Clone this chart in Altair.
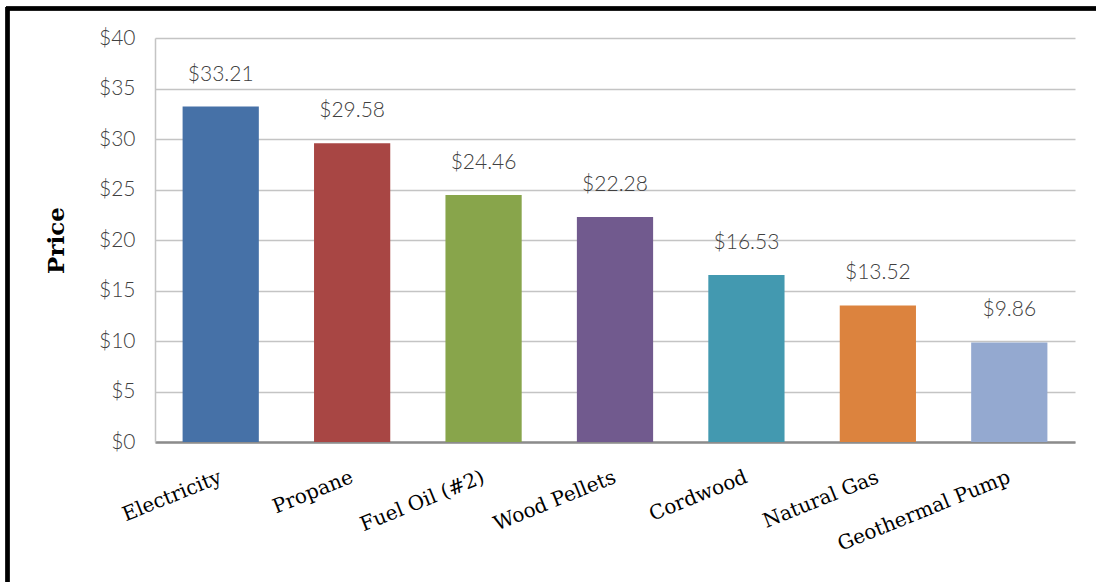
import altair as alt
import pandas as pd

fuels = ["Electricity", "Propane", "Fuel Oil (#2)", "Wood Pellets", "Cordwood", "Natural Gas", "Geothermal Pump"]
prices = [33.21, 29.58, 24.46, 22.28, 16.53, 13.52, 9.86]
colors = ["#4671A7", "#A84644", "#88A54B", "#715A8E", "#4399B0", "#DC833E", "#94A9D0"]
y_ticks = [0, 5, 10, 15, 20, 25, 30, 35, 40]

df = pd.DataFrame({"fuel": fuels, "price": prices, "color": colors,
                   "label": ["$" + f"{p:.2f}" for p in prices]})

W, H = 920, 404

x = alt.X("fuel:N", sort=fuels, title=None,
          scale=alt.Scale(paddingInner=0.42, paddingOuter=0.21),
          axis=alt.Axis(labelAngle=-22, labelAlign="right", labelBaseline="middle",
                        labelPadding=34, labelFont="DejaVu Serif", labelFontSize=20,
                        labelColor="#000000", ticks=False, domainColor="#8c8c8c",
                        domainWidth=2.5, labelOverlap=False, labelLimit=400))
y = alt.Y("price:Q", title="Price",
          scale=alt.Scale(domain=[0, 40], nice=False),
          axis=alt.Axis(values=y_ticks, labelExpr="'$' + datum.value", ticks=False,
                        labelFont="Lato", labelFontSize=21, labelFontWeight=300,
                        labelColor="#404040",
                        labelPadding=20, gridColor="#c4c4c4", gridWidth=1.5,
                        domainColor="#c4c4c4", domainWidth=1.5,
                        titleFont="DejaVu Serif", titleFontSize=23, titleFontWeight="bold",
                        titleColor="#000000", titlePadding=30))

bars = alt.Chart(df).mark_bar().encode(
    x=x, y=y, color=alt.Color("color:N", scale=None))

texts = alt.Chart(df).mark_text(dy=-32, font="Lato", fontSize=21, fontWeight=300,
                                color="#404040").encode(
    x=alt.X("fuel:N", sort=fuels), y="price:Q", text="label:N")

border_top = alt.Chart(df).mark_rule(color="#000000", strokeWidth=3.5).encode(
    x=alt.value(-149), x2=alt.value(941), y=alt.value(-29.5))
border_left = alt.Chart(df).mark_rule(color="#000000", strokeWidth=3.5).encode(
    x=alt.value(-147.5), y=alt.value(-31), y2=alt.value(544))

chart = alt.layer(bars, texts, border_top, border_left).properties(
    width=W, height=H,
    autosize=alt.AutoSizeParams(type="none"),
    padding={"left": 155, "top": 38, "right": 21, "bottom": 140},
    background="#ffffff",
).configure_view(stroke=None)

chart.save("out.html", embed_options={"renderer": "svg", "actions": False})
